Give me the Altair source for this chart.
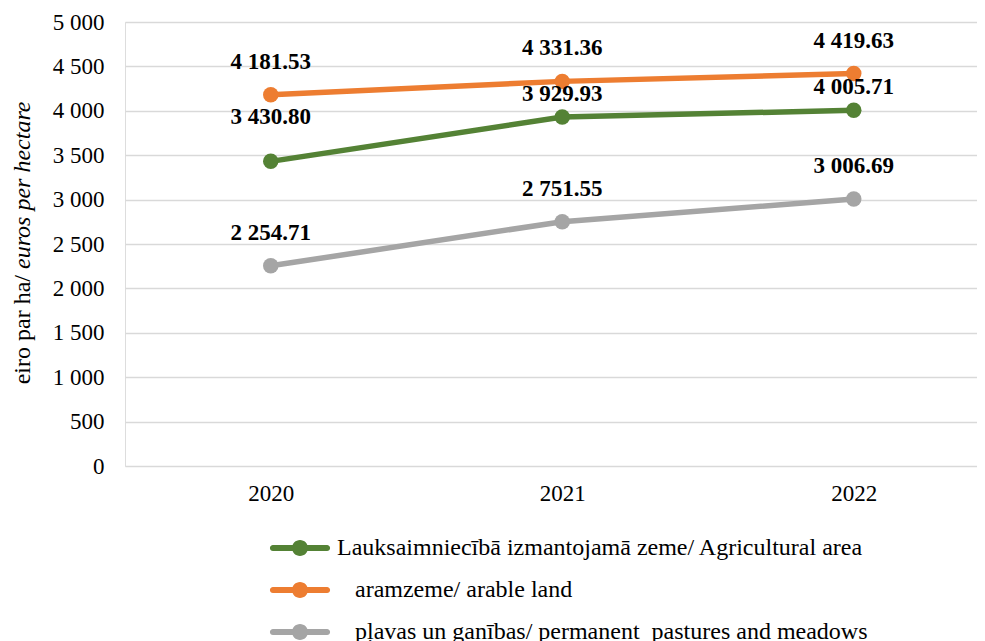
import altair as alt
import pandas as pd

years = ["2020", "2021", "2022"]
series = [
    "Lauksaimniecībā izmantojamā zeme/ Agricultural area",
    "\u200b\u00a0\u00a0\u00a0aramzeme/ arable land",
    "\u200b\u00a0\u00a0\u00a0pļavas un ganības/ permanent\u00a0 pastures and meadows",
]
agri = [3430.80, 3929.93, 4005.71]
arable = [4181.53, 4331.36, 4419.63]
pasture = [2254.71, 2751.55, 3006.69]
colors = ["#548235", "#ED7D31", "#A5A5A5"]
y_ticks = [0, 500, 1000, 1500, 2000, 2500, 3000, 3500, 4000, 4500, 5000]
title_plain = "eiro par ha/"
title_italic = "euros per hectare"

rows = []
for name, vals in zip(series, [agri, arable, pasture]):
    for yr, v in zip(years, vals):
        rows.append({"series": name, "year": yr, "value": v})
df = pd.DataFrame(rows)

FONT = "Liberation Serif"

x = alt.X("year:O", title=None,
          scale=alt.Scale(type="point", padding=0.5, range=[0, 874.5]),
          axis=alt.Axis(labelAngle=0, domain=False, ticks=False, grid=False,
                        labelFont=FONT, labelFontSize=23, labelColor="#000000",
                        labelPadding=16))
y = alt.Y("value:Q", title=None,
          scale=alt.Scale(domain=[0, 5000]),
          axis=alt.Axis(values=y_ticks, domain=False, ticks=False, grid=True,
                        gridColor="#D9D9D9", gridWidth=1.3,
                        labelExpr="replace(format(datum.value, ','), ',', ' ')",
                        labelFont=FONT, labelFontSize=23, labelColor="#000000",
                        labelPadding=21))

sym = ("M-1.69,-0.19 L1.69,-0.19 A0.19,0.19 0 0,1 1.69,0.19 L-1.69,0.19 "
       "A0.19,0.19 0 0,1 -1.69,-0.19 Z M-0.5,0 A0.5,0.5 0 1,1 0.5,0 "
       "A0.5,0.5 0 1,1 -0.5,0 Z")

base = alt.Chart(df)

lines = base.mark_line(strokeWidth=5.5, strokeCap="round").encode(
    x=x, y=y,
    stroke=alt.Stroke("series:N", scale=alt.Scale(domain=series, range=colors),
                      legend=None),
)

points = base.mark_point(filled=True, size=240, opacity=1).encode(
    x=x, y=y,
    color=alt.Color("series:N", scale=alt.Scale(domain=series, range=colors),
                    sort=series,
                    legend=alt.Legend(
                        title=None, orient="none", legendX=159, legendY=510,
                        direction="vertical", symbolType=sym, symbolSize=1024,
                        symbolStrokeWidth=0, symbolOpacity=1, labelFont=FONT,
                        labelFontSize=24, labelColor="#000000", labelLimit=0,
                        labelOffset=21, rowPadding=14, padding=0)),
)

label_expr = "replace(format(datum.value, ',.2f'), ',', ' ')"
text_style = dict(font=FONT, fontSize=23, fontWeight="bold", color="#000000",
                  baseline="middle", align="center")

labels_main = base.transform_filter(
    alt.datum.series != series[0]
).transform_calculate(lab=label_expr).mark_text(dy=-33, **text_style).encode(
    x=x, y=y, text="lab:N")

labels_green_first = base.transform_filter(
    (alt.datum.series == series[0]) & (alt.datum.year == years[0])
).transform_calculate(lab=label_expr).mark_text(dy=-44, **text_style).encode(
    x=x, y=y, text="lab:N")

labels_green_rest = base.transform_filter(
    (alt.datum.series == series[0]) & (alt.datum.year != years[0])
).transform_calculate(lab=label_expr).mark_text(dy=-23, **text_style).encode(
    x=x, y=y, text="lab:N")

t1 = alt.Chart(pd.DataFrame({"t": [title_plain]})).mark_text(
    font=FONT, fontSize=24, angle=270, align="right", baseline="middle",
    color="#000000").encode(x=alt.value(-102), y=alt.value(253), text="t:N")
t2 = alt.Chart(pd.DataFrame({"t": [title_italic]})).mark_text(
    font=FONT, fontSize=24, fontStyle="italic", angle=270, align="left",
    baseline="middle", color="#000000").encode(
    x=alt.value(-102), y=alt.value(247), text="t:N")

chart = alt.layer(lines, points, labels_main, labels_green_first,
                  labels_green_rest, t1, t2).properties(
    width=852, height=444,
    autosize=alt.AutoSizeParams(type="none"),
    padding={"left": 117, "top": 14, "right": 0, "bottom": 175},
).resolve_scale(color="independent", stroke="independent").configure_view(
    stroke=None).configure(background="#ffffff")

chart.save("out.html", embed_options={"renderer": "svg", "actions": False})
